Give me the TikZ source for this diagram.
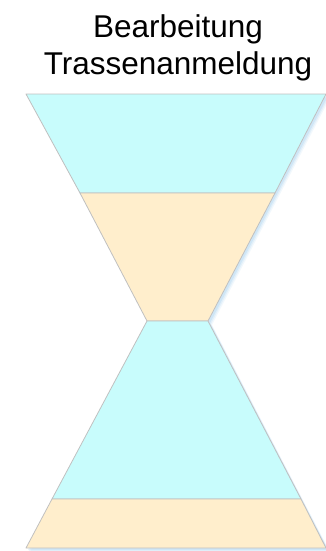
\documentclass[tikz,border=0pt]{standalone}
\usepackage{fontspec}
\setmainfont{Liberation Sans}
\definecolor{cyanband}{RGB}{200,252,252}
\definecolor{orangeband}{RGB}{255,238,204}
\definecolor{edgegray}{RGB}{192,192,192}
\definecolor{shadowblue}{RGB}{150,200,235}
\begin{document}
\begin{tikzpicture}[x=1pt,y=-1pt,
  band/.style={draw=edgegray,line width=0.8pt,line join=round},
  shade/.style={fill=shadowblue,draw=none}]
\useasboundingbox (0,0) rectangle (326,551);
% title
\node[font=\fontsize{31.5}{37}\selectfont,align=center,inner sep=0pt] (title) at (178,48) {Bearbeitung\\Trassenanmeldung};
% soft shadow
\foreach \d/\o in {4/0.12,3/0.18,2/0.25}{
  \fill[shade,opacity=\o,shift={(\d,\d)}] (26,94) -- (326,94) -- (208,321) -- (326,548) -- (26,548) -- (147,321) -- cycle;
}
% hourglass bands
\draw[band,fill=cyanband] (26,94) -- (326,94) -- (275,193) -- (80,193) -- cycle;
\draw[band,fill=orangeband] (80,193) -- (275,193) -- (208,321) -- (147,321) -- cycle;
\draw[band,fill=cyanband] (147,321) -- (208,321) -- (301,499) -- (52,499) -- cycle;
\draw[band,fill=orangeband] (52,499) -- (301,499) -- (326,548) -- (26,548) -- cycle;
\end{tikzpicture}
\end{document}
